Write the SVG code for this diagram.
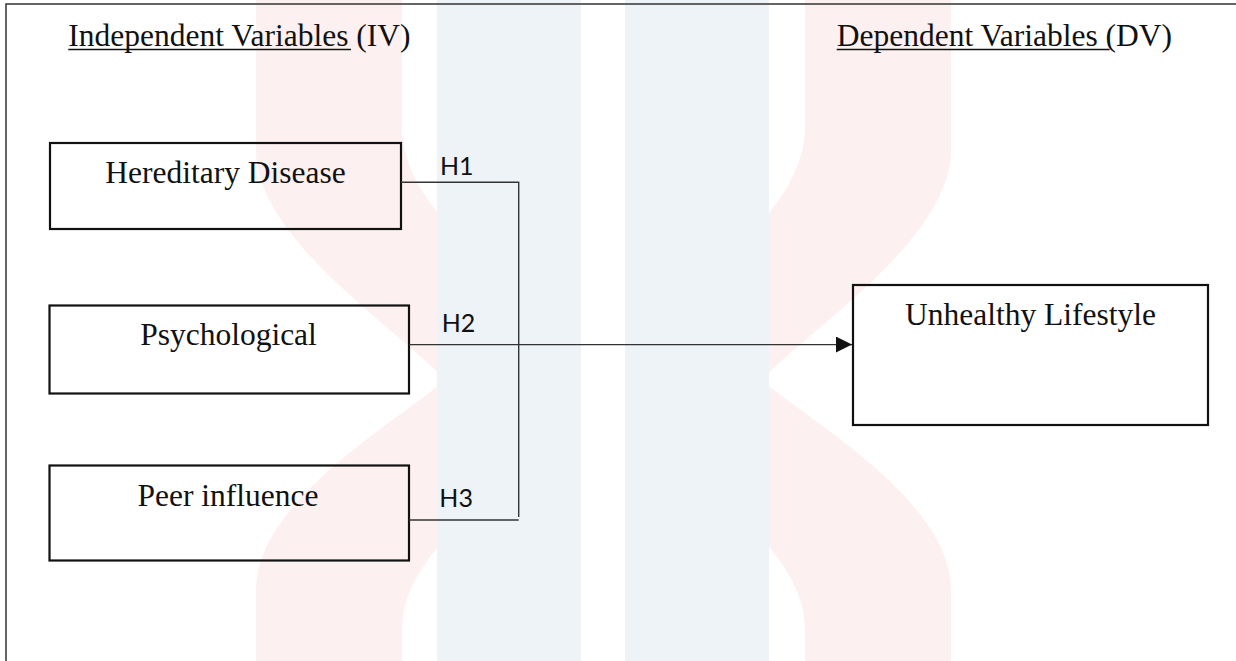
<svg xmlns="http://www.w3.org/2000/svg" width="1236" height="661" viewBox="0 0 1236 661">
  <style>
    .serif { font-family: "Liberation Serif", "Times New Roman", serif; font-size: 31.5px; fill: #111; }
    .hlab { font-family: Lato, "Open Sans", "Noto Sans", sans-serif; font-size: 25px; fill: #111; }
    .box { fill: none; stroke: #111; stroke-width: 2.2; }
    .conn { fill: none; stroke: #333; stroke-width: 1.4; }
    .uline { stroke: #111; stroke-width: 1.6; }
    .pink { fill: #fdf0f0; }
    .blue { fill: #eef3f8; }
  </style>
  <defs>
    <marker id="arrow" markerUnits="userSpaceOnUse" markerWidth="16" markerHeight="16" refX="16" refY="8" orient="auto">
      <path d="M0,0 L16,8 L0,16 Z" fill="#111"/>
    </marker>
    <path id="pinkShape" d="M256,0 H402 V125 C402,180 440,215 470,250 L560,380 L470,510 C440,545 402,580 402,630 V661 H256 V590 C256,500 400,420 445,380 C400,330 256,240 256,150 Z"/>
  </defs>

  <rect x="0" y="0" width="1236" height="661" fill="#ffffff"/>

  <g id="watermark">
    <use href="#pinkShape" class="pink"/>
    <use href="#pinkShape" class="pink" transform="translate(1207,0) scale(-1,1)"/>
    <rect class="blue" x="437" y="0" width="144" height="661"/>
    <rect class="blue" x="625" y="0" width="144" height="661"/>
  </g>

  <g id="frame">
    <path d="M1236,4 H6 V661" fill="none" stroke="#333" stroke-width="1.5"/>
  </g>

  <g id="title-iv">
    <text class="serif" x="68.3" y="45.5">Independent Variables (IV)</text>
    <line class="uline" x1="68.3" y1="49.5" x2="351" y2="49.5"/>
  </g>
  <g id="title-dv">
    <text class="serif" x="836.7" y="45.5">Dependent Variables (DV)</text>
    <line class="uline" x1="836.7" y1="49.5" x2="1109.6" y2="49.5"/>
  </g>

  <g id="node-hereditary">
    <rect class="box" x="50" y="143" width="351" height="86"/>
    <text class="serif" x="225.5" y="183" text-anchor="middle">Hereditary Disease</text>
  </g>
  <g id="node-psychological">
    <rect class="box" x="49.5" y="305.5" width="359.5" height="88"/>
    <text class="serif" x="228.5" y="345" text-anchor="middle">Psychological</text>
  </g>
  <g id="node-peer">
    <rect class="box" x="49.5" y="465.5" width="359.5" height="95"/>
    <text class="serif" x="228" y="506" text-anchor="middle">Peer influence</text>
  </g>
  <g id="node-unhealthy">
    <rect class="box" x="853" y="285" width="355" height="140"/>
    <text class="serif" x="1030.5" y="325" text-anchor="middle">Unhealthy Lifestyle</text>
  </g>

  <g id="connectors">
    <path class="conn" d="M401,182.3 H518.7 V517"/>
    <path class="conn" d="M409,520 H518.7"/>
    <path class="conn" d="M409,344.6 H852" marker-end="url(#arrow)"/>
    <text class="hlab" x="440" y="175">H1</text>
    <text class="hlab" x="441.7" y="331.7">H2</text>
    <text class="hlab" x="439.3" y="507.3">H3</text>
  </g>
</svg>
